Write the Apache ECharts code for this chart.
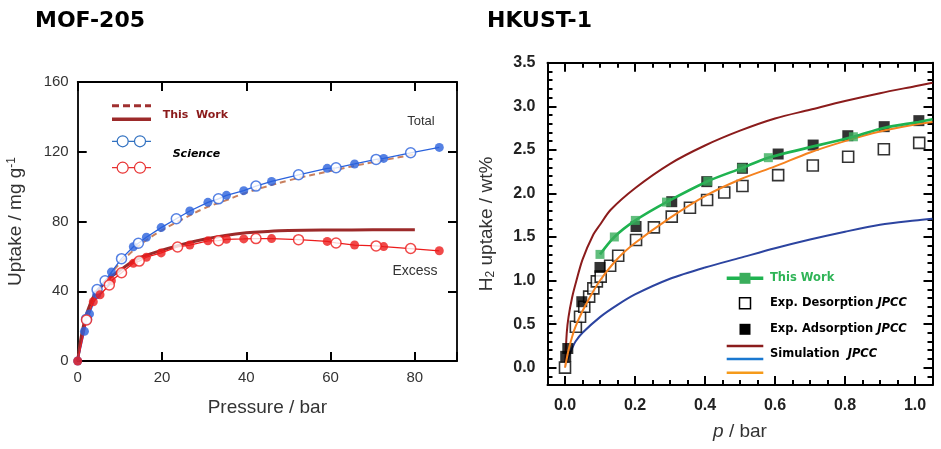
<!DOCTYPE html>
<html>
<head>
<meta charset="utf-8">
<script src="https://cdn.jsdelivr.net/npm/echarts@6/dist/echarts.min.js"></script>
<style>
html,body{margin:0;padding:0;background:#fff;}
#chart{width:941px;height:449px;}
</style>
</head>
<body>
<div id="chart"></div>
<script>
// ---------- MOF-205 (left panel) ----------
const mofXTicks = [0, 20, 40, 60, 80];
const mofYTicks = [0, 40, 80, 120, 160];
// Science: total uptake (filled / open blue circles)
const totalFilled = [[0,0],[1.6,17],[2.8,27],[4.5,38],[8,51],[13.2,65.5],[16.3,71],[19.8,76.5],[26.6,86],[30.9,91],[35.3,95],[39.4,97.7],[46,103],[59.2,110.5],[65.7,113],[72.6,116.2],[85.8,122.5]];
const totalOpen = [[2.1,24],[4.6,41],[6.5,46],[10.4,58.7],[14.4,67.5],[23.4,81.6],[33.4,93],[42.3,100.3],[52.4,106.8],[61.3,110.8],[70.8,115.6],[79,119.4]];
// Science: excess uptake (filled / open red circles)
const excessFilled = [[0,0],[3.7,34],[5.3,38],[8,46],[13.2,56],[16.3,59.5],[19.8,62],[26.6,66.5],[30.9,68.9],[35.3,69.8],[39.4,70],[46,70.2],[59.2,68.6],[65.7,66.5],[72.6,65.6],[85.8,63.2]];
const excessOpen = [[2.1,23.5],[7.5,43.6],[10.4,50.6],[14.6,57.3],[23.7,65.4],[33.4,69],[42.3,70.2],[52.4,69.6],[61.3,67.7],[70.8,66],[79,64.5]];
// This Work curves
const mofWorkTotal = [[0,0],[1,14],[2,24],[3,31],[5,40],[7,47],[10,56],[15,67],[20,75],[25,81.5],[30,87.5],[35,92],[40,96.5],[50,103.5],[60,109],[70,114],[80,118.5]];
const mofWorkExcess = [[0,0],[1,16],[2,26],[3,33],[4,38],[5,41],[7,46.5],[10,52],[13,57],[15,59.5],[20,63.5],[25,67],[30,69.8],[35,72],[40,73.5],[45,74.3],[50,74.8],[60,75.1],[70,75.2],[80,75.2]];

// ---------- HKUST-1 (right panel) ----------
const hkXTicks = [0.0, 0.2, 0.4, 0.6, 0.8, 1.0];
const hkYTicks = [0.0, 0.5, 1.0, 1.5, 2.0, 2.5, 3.0, 3.5];
const hkWork = [[0.1,1.3],[0.141,1.5],[0.201,1.69],[0.29,1.9],[0.408,2.14],[0.505,2.29],[0.581,2.41],[0.824,2.65]];
const hkWorkTail = [[0.91,2.75],[1.01,2.82],[1.05,2.85]];
const hkDesorption = [[0,0],[0.031,0.47],[0.043,0.585],[0.055,0.70],[0.069,0.815],[0.081,0.91],[0.091,0.99],[0.102,1.045],[0.129,1.17],[0.152,1.285],[0.203,1.465],[0.254,1.61],[0.305,1.733],[0.357,1.836],[0.406,1.925],[0.455,2.01],[0.507,2.085],[0.609,2.21],[0.708,2.32],[0.809,2.42],[0.911,2.506],[1.012,2.58]];
const hkAdsorption = [[0.002,0.13],[0.008,0.22],[0.048,0.757],[0.1,1.15],[0.203,1.62],[0.305,1.905],[0.405,2.135],[0.507,2.288],[0.609,2.452],[0.709,2.555],[0.808,2.662],[0.912,2.766],[1.011,2.835]];
const simRed = [[0,0],[0.005,0.4],[0.01,0.58],[0.02,0.8],[0.03,0.96],[0.05,1.24],[0.08,1.52],[0.1,1.64],[0.13,1.81],[0.2,2.06],[0.3,2.34],[0.4,2.55],[0.5,2.72],[0.6,2.86],[0.7,2.96],[0.8,3.06],[0.9,3.15],[1.0,3.23],[1.05,3.27]];
const simBlue = [[0,0],[0.01,0.12],[0.02,0.22],[0.03,0.3],[0.05,0.4],[0.1,0.58],[0.15,0.72],[0.2,0.84],[0.3,1.02],[0.4,1.15],[0.5,1.26],[0.6,1.37],[0.7,1.47],[0.8,1.56],[0.9,1.64],[1.0,1.69],[1.05,1.71]];
const simOrange = [[0,0],[0.01,0.2],[0.02,0.35],[0.03,0.47],[0.05,0.65],[0.07,0.8],[0.1,1.0],[0.15,1.25],[0.2,1.43],[0.3,1.72],[0.4,1.97],[0.5,2.16],[0.6,2.31],[0.7,2.47],[0.8,2.6],[0.9,2.71],[1.0,2.79],[1.05,2.82]];

const byX = (a, b) => a[0] - b[0];
const totalLine = totalFilled.concat(totalOpen).sort(byX);
const excessLine = excessFilled.concat(excessOpen).sort(byX);
const hkWorkLine = hkWork.concat(hkWorkTail);

const BLUE = '#2a62dc', RED = '#ec1c1c', DARKRED = '#9c2a2a';
const near = (v, arr) => arr.some(t => Math.abs(t - v) < 1e-6);

const chart = echarts.init(document.getElementById('chart'));

const G0 = {left: 77.7, top: 82, width: 379.3, height: 279};
const G1 = {left: 547.5, top: 62.7, width: 385, height: 322.4};
const TICK = {color: '#000', width: 2};

const option = {
  animation: false,
  backgroundColor: '#fff',
  grid: [
    Object.assign({containLabel: false, outerBoundsMode: 'none'}, G0),
    Object.assign({containLabel: false, outerBoundsMode: 'none'}, G1),
    {left: 565, width: 350, top: G1.top, height: G1.height, containLabel: false, outerBoundsMode: 'none'},
    {left: G1.left, width: G1.width, top: 62.7, height: 305, containLabel: false, outerBoundsMode: 'none'}
  ],
  xAxis: [
    { // 0 left bottom
      type: 'value', gridIndex: 0, position: 'bottom', min: 0, max: 90, interval: 20,
      axisLine: {show: true, onZero: false, lineStyle: {color: '#000', width: 1.8}},
      axisTick: {show: true, inside: true, length: 9, lineStyle: TICK},
      axisLabel: {show: true, margin: 9, fontSize: 15, color: '#333', fontFamily: 'Liberation Sans',
        formatter: v => near(v, mofXTicks) ? String(v) : ''},
      splitLine: {show: false},
      name: 'Pressure / bar', nameLocation: 'middle', nameGap: 37,
      nameTextStyle: {fontSize: 19, color: '#333', fontFamily: 'Liberation Sans'}
    },
    { // 1 left top
      type: 'value', gridIndex: 0, position: 'top', min: 0, max: 90, interval: 20,
      axisLine: {show: true, onZero: false, lineStyle: {color: '#000', width: 1.8}},
      axisTick: {show: true, inside: true, length: 9, lineStyle: TICK},
      axisLabel: {show: false}, splitLine: {show: false}
    },
    { // 2 right main bottom (minor ticks)
      type: 'value', gridIndex: 1, position: 'bottom', min: -0.05, max: 1.05, interval: 0.05,
      axisLine: {show: true, onZero: false, lineStyle: {color: '#000', width: 2}},
      axisTick: {show: true, inside: true, length: 5, lineStyle: TICK},
      axisLabel: {show: false}, splitLine: {show: false},
      name: '{i|p} / bar', nameLocation: 'middle', nameGap: 37,
      nameTextStyle: {fontSize: 19, color: '#333', fontFamily: 'Liberation Sans',
        rich: {i: {fontSize: 19, fontStyle: 'italic', color: '#333', fontFamily: 'Liberation Sans'}}}
    },
    { // 3 right main top
      type: 'value', gridIndex: 1, position: 'top', min: -0.05, max: 1.05, interval: 0.05,
      axisLine: {show: true, onZero: false, lineStyle: {color: '#000', width: 2}},
      axisTick: {show: true, inside: true, length: 5, lineStyle: TICK},
      axisLabel: {show: false}, splitLine: {show: false}
    },
    { // 4 right major bottom
      type: 'value', gridIndex: 2, position: 'bottom', min: 0, max: 1, interval: 0.2,
      axisLine: {show: false, onZero: false},
      axisTick: {show: true, inside: true, length: 9, lineStyle: TICK},
      axisLabel: {show: true, margin: 12, fontSize: 16, fontWeight: 'bold', color: '#222', fontFamily: 'Liberation Sans',
        formatter: v => near(v, hkXTicks) ? v.toFixed(1) : ''},
      splitLine: {show: false}
    },
    { // 5 right major top
      type: 'value', gridIndex: 2, position: 'top', min: 0, max: 1, interval: 0.2,
      axisLine: {show: false, onZero: false},
      axisTick: {show: true, inside: true, length: 9, lineStyle: TICK},
      axisLabel: {show: false}, splitLine: {show: false}
    },
    { // 6 dummy for grid 3
      type: 'value', gridIndex: 3, min: -0.05, max: 1.05, show: false, axisLine: {onZero: false}
    }
  ],
  yAxis: [
    { // 0 left left
      type: 'value', gridIndex: 0, position: 'left', min: 0, max: 160, interval: 40,
      axisLine: {show: true, onZero: false, lineStyle: {color: '#000', width: 1.8}},
      axisTick: {show: true, inside: true, length: 9, lineStyle: TICK},
      axisLabel: {show: true, margin: 9, fontSize: 15, color: '#333', fontFamily: 'Liberation Sans',
        formatter: v => near(v, mofYTicks) ? String(v) : ''},
      splitLine: {show: false},
      name: 'Uptake / mg g{sup|-1}', nameLocation: 'middle', nameGap: 52,
      nameTextStyle: {fontSize: 19, color: '#333', fontFamily: 'Liberation Sans',
        rich: {sup: {fontSize: 12, color: '#333', fontFamily: 'Liberation Sans', verticalAlign: 'top', padding: [0, 0, 8, 0]}}}
    },
    { // 1 left right
      type: 'value', gridIndex: 0, position: 'right', min: 0, max: 160, interval: 40,
      axisLine: {show: true, onZero: false, lineStyle: {color: '#000', width: 1.8}},
      axisTick: {show: true, inside: true, length: 9, lineStyle: TICK},
      axisLabel: {show: false}, splitLine: {show: false}
    },
    { // 2 right main left (minor)
      type: 'value', gridIndex: 1, position: 'left', min: -0.2, max: 3.5, interval: 0.1,
      axisLine: {show: true, onZero: false, lineStyle: {color: '#000', width: 2}},
      axisTick: {show: true, inside: true, length: 5, lineStyle: TICK},
      axisLabel: {show: false}, splitLine: {show: false},
      name: 'H{s|2} uptake / wt%', nameLocation: 'middle', nameGap: 51,
      nameTextStyle: {fontSize: 19, color: '#333', fontFamily: 'Liberation Sans',
        rich: {s: {fontSize: 12, color: '#333', fontFamily: 'Liberation Sans', verticalAlign: 'bottom', padding: [8, 0, 0, 0]}}}
    },
    { // 3 right main right
      type: 'value', gridIndex: 1, position: 'right', min: -0.2, max: 3.5, interval: 0.1,
      axisLine: {show: true, onZero: false, lineStyle: {color: '#000', width: 2}},
      axisTick: {show: true, inside: true, length: 5, lineStyle: TICK},
      axisLabel: {show: false}, splitLine: {show: false}
    },
    { // 4 dummy for grid 2
      type: 'value', gridIndex: 2, min: -0.2, max: 3.5, show: false, axisLine: {onZero: false}
    },
    { // 5 right major left
      type: 'value', gridIndex: 3, position: 'left', min: 0, max: 3.5, interval: 0.5,
      axisLine: {show: false, onZero: false},
      axisTick: {show: true, inside: true, length: 9, lineStyle: TICK},
      axisLabel: {show: true, margin: 12, fontSize: 16, fontWeight: 'bold', color: '#222', fontFamily: 'Liberation Sans',
        formatter: v => near(v, hkYTicks) ? v.toFixed(1) : ''},
      splitLine: {show: false}
    },
    { // 6 right major right
      type: 'value', gridIndex: 3, position: 'right', min: 0, max: 3.5, interval: 0.5,
      axisLine: {show: false, onZero: false},
      axisTick: {show: true, inside: true, length: 9, lineStyle: TICK},
      axisLabel: {show: false}, splitLine: {show: false}
    }
  ],
  series: [
    // ----- left panel -----
    {type: 'line', xAxisIndex: 0, yAxisIndex: 0, data: mofWorkTotal, smooth: 0.4, showSymbol: false,
      lineStyle: {color: '#c9805e', width: 2, type: [6, 4]}, z: 2},
    {type: 'line', xAxisIndex: 0, yAxisIndex: 0, data: mofWorkExcess, smooth: 0.4, showSymbol: false,
      lineStyle: {color: DARKRED, width: 3}, z: 2},
    {type: 'line', xAxisIndex: 0, yAxisIndex: 0, data: totalLine, showSymbol: false,
      lineStyle: {color: BLUE, width: 1.3}, z: 3},
    {type: 'line', xAxisIndex: 0, yAxisIndex: 0, data: excessLine, showSymbol: false,
      lineStyle: {color: RED, width: 1.3}, z: 3},
    {type: 'scatter', xAxisIndex: 0, yAxisIndex: 0, data: totalFilled, symbol: 'circle', symbolSize: 9,
      itemStyle: {color: BLUE}, z: 4},
    {type: 'scatter', xAxisIndex: 0, yAxisIndex: 0, data: totalOpen, symbol: 'circle', symbolSize: 10,
      itemStyle: {color: '#fff', borderColor: BLUE, borderWidth: 1.5}, z: 4},
    {type: 'scatter', xAxisIndex: 0, yAxisIndex: 0, data: excessFilled, symbol: 'circle', symbolSize: 9,
      itemStyle: {color: RED}, z: 4},
    {type: 'scatter', xAxisIndex: 0, yAxisIndex: 0, data: excessOpen, symbol: 'circle', symbolSize: 10,
      itemStyle: {color: '#fff', borderColor: RED, borderWidth: 1.5}, z: 4},
    // ----- right panel -----
    {type: 'line', xAxisIndex: 2, yAxisIndex: 2, data: simRed, smooth: 0.3, showSymbol: false,
      lineStyle: {color: '#8b1c1c', width: 2}, z: 2},
    {type: 'line', xAxisIndex: 2, yAxisIndex: 2, data: simBlue, smooth: 0.3, showSymbol: false,
      lineStyle: {color: '#2c44a0', width: 2}, z: 2},
    {type: 'scatter', xAxisIndex: 2, yAxisIndex: 2, data: hkDesorption, symbol: 'rect', symbolSize: 11,
      itemStyle: {color: '#fff', borderColor: '#000', borderWidth: 1.6}, z: 3},
    {type: 'scatter', xAxisIndex: 2, yAxisIndex: 2, data: hkAdsorption, symbol: 'rect', symbolSize: 11,
      itemStyle: {color: '#000'}, z: 3},
    {type: 'line', xAxisIndex: 2, yAxisIndex: 2, data: simOrange, smooth: 0.3, showSymbol: false,
      lineStyle: {color: '#f5821f', width: 2}, z: 4},
    {type: 'line', xAxisIndex: 2, yAxisIndex: 2, data: hkWorkLine, smooth: 0.3, showSymbol: false,
      lineStyle: {color: '#1fb350', width: 2.6}, z: 5},
    {type: 'scatter', xAxisIndex: 2, yAxisIndex: 2, data: hkWork, symbol: 'rect', symbolSize: 9,
      itemStyle: {color: '#3aae5c'}, z: 6}
  ],
  graphic: [
    // titles
    {type: 'text', left: 35, top: 10, style: {text: 'MOF-205', fontSize: 22, fontWeight: 'bold', fontFamily: 'DejaVu Sans', fill: '#000'}},
    {type: 'text', left: 487, top: 10, style: {text: 'HKUST-1', fontSize: 22, fontWeight: 'bold', fontFamily: 'DejaVu Sans', fill: '#000'}},
    // left annotations
    {type: 'text', x: 421, y: 121, style: {text: 'Total', fontSize: 13, fontFamily: 'Liberation Sans', fill: '#333', align: 'center', verticalAlign: 'middle'}},
    {type: 'text', x: 415, y: 271, style: {text: 'Excess', fontSize: 14, fontFamily: 'Liberation Sans', fill: '#333', align: 'center', verticalAlign: 'middle'}},
    // left legend
    {type: 'line', shape: {x1: 112, y1: 105.7, x2: 151, y2: 105.7}, style: {stroke: '#a03030', lineWidth: 3, lineDash: [7, 4]}},
    {type: 'line', shape: {x1: 112, y1: 119.3, x2: 151, y2: 119.3}, style: {stroke: '#9c2a2a', lineWidth: 3.5}},
    {type: 'text', x: 162.7, y: 115, style: {text: 'This  Work', fontSize: 11, fontWeight: 'bold', fontFamily: 'DejaVu Sans', fill: '#8b1a1a', verticalAlign: 'middle'}},
    {type: 'line', shape: {x1: 112, y1: 141.3, x2: 151, y2: 141.3}, style: {stroke: '#3070c0', lineWidth: 1.2}},
    {type: 'circle', shape: {cx: 122.7, cy: 141.3, r: 5.5}, style: {fill: '#fff', stroke: '#3070c0', lineWidth: 1.2}},
    {type: 'circle', shape: {cx: 140, cy: 141.3, r: 5.5}, style: {fill: '#fff', stroke: '#3070c0', lineWidth: 1.2}},
    {type: 'line', shape: {x1: 112, y1: 167.7, x2: 151, y2: 167.7}, style: {stroke: '#e83030', lineWidth: 1.2}},
    {type: 'circle', shape: {cx: 122.7, cy: 167.7, r: 5.5}, style: {fill: '#fff', stroke: '#e83030', lineWidth: 1.2}},
    {type: 'circle', shape: {cx: 140, cy: 167.7, r: 5.5}, style: {fill: '#fff', stroke: '#e83030', lineWidth: 1.2}},
    {type: 'text', x: 172.7, y: 154.3, style: {text: 'Science', fontSize: 11, fontWeight: 'bold', fontStyle: 'italic', fontFamily: 'DejaVu Sans', fill: '#000', verticalAlign: 'middle'}},
    // right legend
    {type: 'line', shape: {x1: 726.7, y1: 278.3, x2: 763.3, y2: 278.3}, style: {stroke: '#1fb350', lineWidth: 3.5}},
    {type: 'rect', shape: {x: 739.5, y: 272.8, width: 11, height: 11}, style: {fill: '#3aae5c'}},
    {type: 'rect', shape: {x: 739.5, y: 297.8, width: 11, height: 11}, style: {fill: '#fff', stroke: '#000', lineWidth: 1.5}},
    {type: 'rect', shape: {x: 739.5, y: 323.8, width: 11, height: 11}, style: {fill: '#000'}},
    {type: 'line', shape: {x1: 726.7, y1: 346, x2: 763.3, y2: 346}, style: {stroke: '#8b1c1c', lineWidth: 2.5}},
    {type: 'line', shape: {x1: 726.7, y1: 359, x2: 763.3, y2: 359}, style: {stroke: '#1a78d0', lineWidth: 2.5}},
    {type: 'line', shape: {x1: 726.7, y1: 372.7, x2: 763.3, y2: 372.7}, style: {stroke: '#f59a1a', lineWidth: 2.5}},
    {type: 'text', x: 770, y: 278.3, style: {text: 'This Work', fontSize: 11.5, fontWeight: 'bold', fontFamily: 'DejaVu Sans', fill: '#2fb457', verticalAlign: 'middle'}},
    {type: 'text', x: 770, y: 303.3, style: {text: 'Exp. Desorption {i|JPCC}', fontSize: 11.5, fontWeight: 'bold', fontFamily: 'DejaVu Sans', fill: '#000', verticalAlign: 'middle',
      rich: {i: {fontSize: 11.5, fontWeight: 'bold', fontStyle: 'italic', fontFamily: 'DejaVu Sans', fill: '#000'}}}},
    {type: 'text', x: 770, y: 329.3, style: {text: 'Exp. Adsorption {i|JPCC}', fontSize: 11.5, fontWeight: 'bold', fontFamily: 'DejaVu Sans', fill: '#000', verticalAlign: 'middle',
      rich: {i: {fontSize: 11.5, fontWeight: 'bold', fontStyle: 'italic', fontFamily: 'DejaVu Sans', fill: '#000'}}}},
    {type: 'text', x: 770, y: 354, style: {text: 'Simulation  {i|JPCC}', fontSize: 11.5, fontWeight: 'bold', fontFamily: 'DejaVu Sans', fill: '#000', verticalAlign: 'middle',
      rich: {i: {fontSize: 11.5, fontWeight: 'bold', fontStyle: 'italic', fontFamily: 'DejaVu Sans', fill: '#000'}}}}
  ]
};
chart.setOption(option);
</script>
</body>
</html>
